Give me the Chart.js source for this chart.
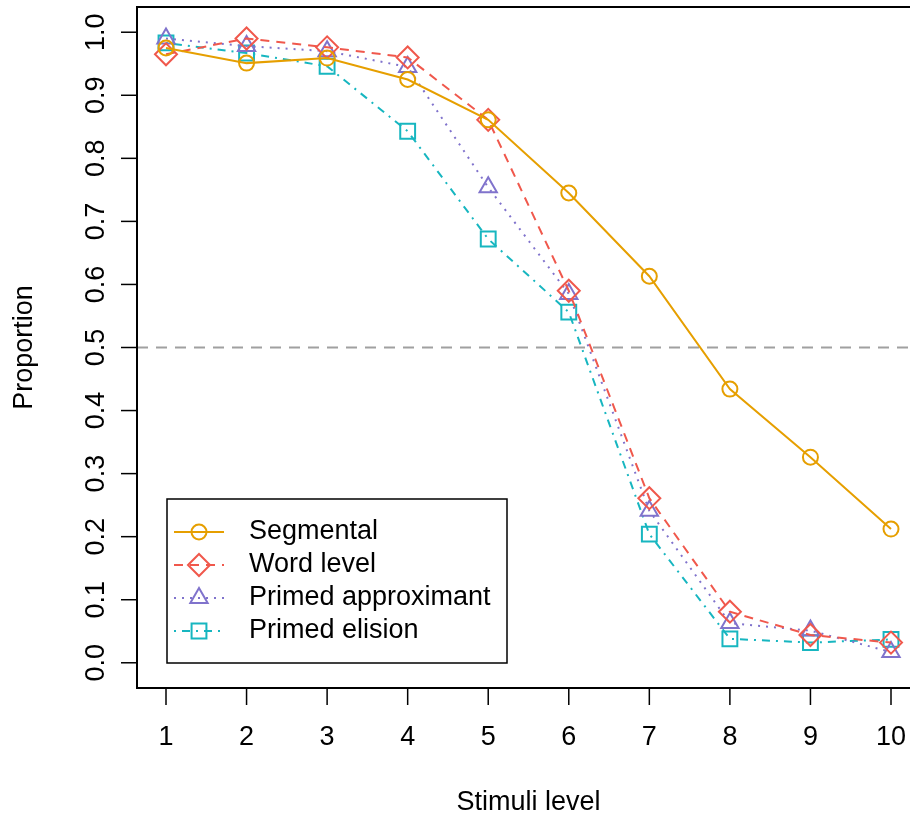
<!DOCTYPE html>
<html>
<head>
<meta charset="utf-8">
<script src="https://cdn.jsdelivr.net/npm/chart.js@4.4.1/dist/chart.umd.min.js"></script>
<style>
  html, body { margin: 0; padding: 0; background: #fff; overflow: hidden; }
  #wrap { width: 930px; height: 817px; }
</style>
</head>
<body>
<div id="wrap"><canvas id="chart" width="930" height="817"></canvas></div>
<script>
// stimulus levels on the x axis
const levels = [1, 2, 3, 4, 5, 6, 7, 8, 9, 10];

// proportions
const segmental     = [0.975, 0.951, 0.959, 0.925, 0.861, 0.745, 0.613, 0.434, 0.326, 0.212];
const wordLevel     = [0.965, 0.990, 0.976, 0.960, 0.861, 0.590, 0.261, 0.081, 0.044, 0.032];
const primedApprox  = [0.990, 0.978, 0.970, 0.945, 0.754, 0.585, 0.241, 0.063, 0.051, 0.017];
const primedElision = [0.983, 0.967, 0.946, 0.843, 0.672, 0.556, 0.204, 0.038, 0.032, 0.037];

const seriesNames = ['Segmental', 'Word level', 'Primed approximant', 'Primed elision'];
const yTicks = [0, 0.1, 0.2, 0.3, 0.4, 0.5, 0.6, 0.7, 0.8, 0.9, 1.0];
const yTickLabels = ['0.0', '0.1', '0.2', '0.3', '0.4', '0.5', '0.6', '0.7', '0.8', '0.9', '1.0'];
const xTickLabels = ['1', '2', '3', '4', '5', '6', '7', '8', '9', '10'];
const refLine = 0.5;

const FONT = "27px 'Liberation Sans', Arial, sans-serif";

function toPoints(vals) {
  return levels.map((x, i) => ({ x: x, y: vals[i] }));
}

function series(label, vals, color, dash, style, radius) {
  return {
    label: label,
    data: toPoints(vals),
    borderColor: color,
    borderWidth: 2,
    borderDash: dash,
    pointStyle: style,
    pointRadius: radius,
    pointHoverRadius: radius,
    pointBorderColor: color,
    pointBackgroundColor: 'rgba(0,0,0,0)',
    pointBorderWidth: 2,
    tension: 0,
    fill: false
  };
}

// R-like axes, box, reference line and legend
const baseGraphics = {
  id: 'baseGraphics',
  beforeDatasetsDraw(chart) {
    const ctx = chart.ctx, a = chart.chartArea;
    const y = chart.scales.y.getPixelForValue(refLine);
    ctx.save();
    ctx.strokeStyle = '#a0a0a0';
    ctx.lineWidth = 2;
    ctx.setLineDash([11, 8]);
    ctx.beginPath();
    ctx.moveTo(a.left, y);
    ctx.lineTo(a.right, y);
    ctx.stroke();
    ctx.restore();
  },
  afterDatasetsDraw(chart) {
    const ctx = chart.ctx, a = chart.chartArea;
    const xs = chart.scales.x, ys = chart.scales.y;
    ctx.save();
    ctx.strokeStyle = '#000';
    ctx.fillStyle = '#000';
    ctx.lineWidth = 2;
    ctx.setLineDash([]);
    ctx.strokeRect(a.left, a.top, a.right - a.left, a.bottom - a.top);

    ctx.font = FONT;
    ctx.lineWidth = 1.5;
    // x axis
    ctx.textAlign = 'center';
    ctx.textBaseline = 'middle';
    levels.forEach((v, i) => {
      const px = xs.getPixelForValue(v);
      ctx.beginPath();
      ctx.moveTo(px, a.bottom);
      ctx.lineTo(px, a.bottom + 17);
      ctx.stroke();
      ctx.fillText(xTickLabels[i], px, a.bottom + 50);
    });
    ctx.fillText('Stimuli level', (a.left + a.right) / 2, a.bottom + 115);

    // y axis
    yTicks.forEach((v, i) => {
      const py = ys.getPixelForValue(v);
      ctx.beginPath();
      ctx.moveTo(a.left, py);
      ctx.lineTo(a.left - 16, py);
      ctx.stroke();
      ctx.save();
      ctx.translate(a.left - 40, py);
      ctx.rotate(-Math.PI / 2);
      ctx.fillText(yTickLabels[i], 0, 0);
      ctx.restore();
    });
    ctx.save();
    ctx.translate(25, (a.top + a.bottom) / 2);
    ctx.rotate(-Math.PI / 2);
    ctx.fillText('Proportion', 0, 0);
    ctx.restore();

    // legend
    const lx = 167, ly = 499, lw = 340, lh = 164;
    ctx.fillStyle = '#fff';
    ctx.fillRect(lx, ly, lw, lh);
    ctx.strokeStyle = '#000';
    ctx.lineWidth = 1.5;
    ctx.strokeRect(lx, ly, lw, lh);
    ctx.textAlign = 'left';
    chart.data.datasets.forEach((ds, i) => {
      const ry = ly + 33 + i * 33;
      ctx.strokeStyle = ds.borderColor;
      ctx.lineWidth = ds.borderWidth;
      ctx.setLineDash(ds.borderDash || []);
      ctx.beginPath();
      ctx.moveTo(lx + 7, ry);
      ctx.lineTo(lx + 57, ry);
      ctx.stroke();
      ctx.setLineDash([]);
      ctx.fillStyle = 'rgba(0,0,0,0)';
      Chart.helpers.drawPoint(ctx, {
        pointStyle: ds.pointStyle,
        radius: ds.pointRadius,
        rotation: 0,
        borderWidth: ds.pointBorderWidth
      }, lx + 32, ry);
      ctx.fillStyle = '#000';
      ctx.fillText(seriesNames[i], lx + 82, ry);
    });
    ctx.restore();
  }
};

new Chart(document.getElementById('chart').getContext('2d'), {
  type: 'line',
  data: {
    datasets: [
      series(seriesNames[0], segmental, '#E69F00', [], 'circle', 7.5),
      series(seriesNames[1], wordLevel, '#F0584C', [9, 7], 'rectRot', 11),
      series(seriesNames[2], primedApprox, '#8073CC', [2, 6], 'triangle', 10),
      series(seriesNames[3], primedElision, '#17B6C0', [2, 6, 8, 6], 'rect', 10.5)
    ]
  },
  options: {
    responsive: false,
    animation: false,
    devicePixelRatio: 1,
    layout: { autoPadding: false, padding: { left: 137, top: 7, right: 10, bottom: 129 } },
    scales: {
      x: { type: 'linear', min: 0.64, max: 10.36, display: false },
      y: { type: 'linear', min: -0.04, max: 1.04, display: false }
    },
    plugins: {
      legend: { display: false },
      tooltip: { enabled: false }
    }
  },
  plugins: [baseGraphics]
});
</script>
</body>
</html>
